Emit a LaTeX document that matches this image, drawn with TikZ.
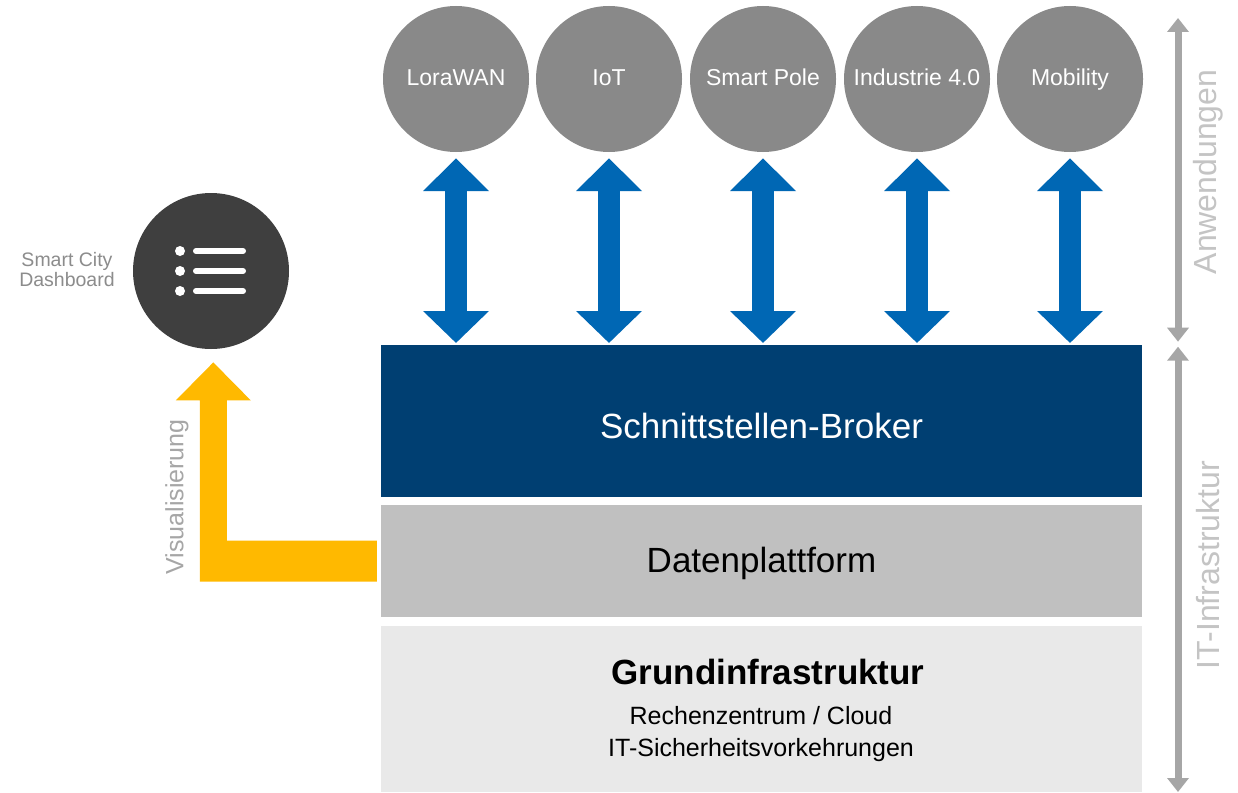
\documentclass[tikz,border=0pt]{standalone}
\usepackage{fontspec}
\setmainfont{Liberation Sans}
\usetikzlibrary{arrows.meta}

\definecolor{appgray}{HTML}{898989}
\definecolor{linkblue}{HTML}{0067B4}
\definecolor{brokerblue}{HTML}{003F72}
\definecolor{platgray}{HTML}{C0C0C0}
\definecolor{basegray}{HTML}{E9E9E9}
\definecolor{dashgray}{HTML}{3F3F3F}
\definecolor{visyellow}{HTML}{FFB900}
\definecolor{labelgray}{HTML}{8C8C8C}
\definecolor{sidegray}{HTML}{A6A6A6}
\definecolor{sidetext}{HTML}{C4C4C4}

\begin{document}
\begin{tikzpicture}[x=1pt,y=-1pt,
  app/.style={circle,fill=appgray,minimum size=146pt,inner sep=0pt,
    text=white,font=\fontsize{23}{26}\selectfont,text height=16.5pt,text depth=4.5pt},
  layer/.style={rectangle,minimum width=761pt,inner sep=0pt,anchor=north},
  layertext/.style={font=\fontsize{35}{40}\selectfont},
  link/.style={linkblue,line width=22pt,
    {Triangle[length=33pt,width=64pt]}-{Triangle[length=32pt,width=64pt]}},
  span/.style={sidegray,line width=7pt,
    {Triangle[length=14pt,width=21pt]}-{Triangle[length=14pt,width=21pt]}},
  sidelabel/.style={text=sidetext,rotate=90,font=\fontsize{32}{36}\selectfont}
]
\useasboundingbox[fill=white] (0,0) rectangle (1238,792);

% application circles
\node[app] (lora) at (456,79) {LoraWAN};
\node[app] (iot)  at (609,79) {IoT};
\node[app] (pole) at (763,79) {Smart Pole};
\node[app] (ind)  at (917,79) {Industrie 4.0};
\node[app] (mob)  at (1070,79) {Mobility};

% layer stack
\node[layer,fill=brokerblue,minimum height=152pt] (broker) at (761.5,345) {};
\node[layertext,text=white] (brokertext) at ([yshift=-5pt]broker.center) {Schnittstellen-Broker};
\node[layer,fill=platgray,minimum height=112pt] (daten) at (761.5,505) {};
\node[layertext,text=black] (datentext) at ([yshift=-2pt]daten.center) {Datenplattform};
\node[layer,fill=basegray,minimum height=166pt] (grund) at (761.5,626) {};
\node[font=\fontsize{35}{40}\selectfont\bfseries] (grundtitle) at (768,672) {Grundinfrastruktur};
\node[font=\fontsize{25}{32}\selectfont,align=center] (grundtext) at (761,734)
  {Rechenzentrum / Cloud\\IT-Sicherheitsvorkehrungen};

% links between applications and broker
\foreach \a in {lora,iot,pole,ind,mob}{
  \draw[link] ([yshift=-6pt]\a.south) -- ([yshift=2pt]\a.south |- broker.north);
}

% dashboard
\node[circle,fill=dashgray,minimum size=156pt,inner sep=0pt] (dash) at (211,271) {};
\begin{scope}[shift={(dash.center)}]
  \foreach \dy in {-20,0,20}{
    \fill[white] (-31,\dy) circle (5pt);
    \draw[white,line width=6pt,line cap=round] (-15,\dy) -- (32,\dy);
  }
\end{scope}
\node[text=labelgray,align=center,font=\fontsize{19.5}{20}\selectfont]
  (dashlabel) at (67,270) {Smart City\\Dashboard};

% visualisation path from data platform to dashboard
\coordinate (vstart) at ([xshift=-4pt]daten.west);
\fill[visyellow] (vstart) ++(0,-20.5) -- ++(0,41) -- ++(-177,0) -- ++(0,-181.3)
  -- ++(-24,0) -- ++(37.5,-38) -- ++(37.5,38) -- ++(-24,0) -- ++(0,140.3) -- cycle;
\node[text=sidegray,rotate=90,font=\fontsize{25}{28}\selectfont]
  (vislabel) at (177,497) {Visualisierung};

% side scale
\coordinate (apptop) at (1178,18);
\coordinate (appbot) at (1178,341.7);
\coordinate (infratop) at (1178,346.7);
\coordinate (infrabot) at (1178,792);
\draw[span] (apptop) -- (appbot);
\draw[span] (infratop) -- (infrabot);
\node[sidelabel] (applabel) at (1208,172) {Anwendungen};
\node[sidelabel] (infralabel) at (1208,565) {IT-Infrastruktur};
\end{tikzpicture}
\end{document}
